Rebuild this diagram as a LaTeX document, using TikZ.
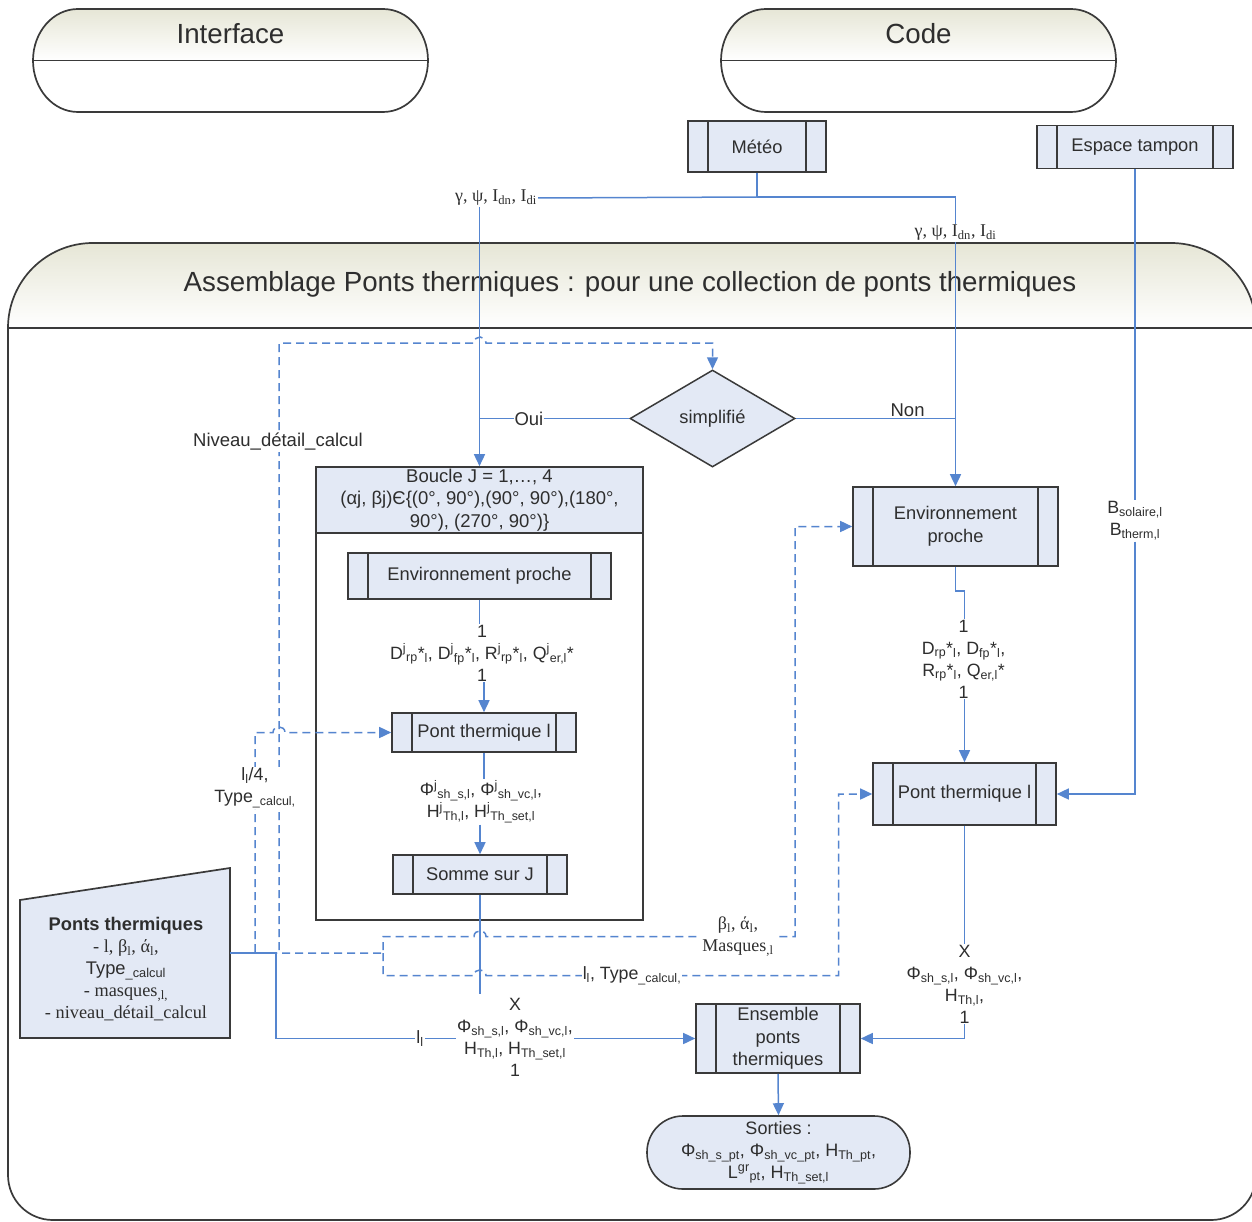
\documentclass[tikz,border=0pt]{standalone}
\usepackage{fontspec}
\setmainfont{Liberation Sans}
\newfontfamily\seriffam{Liberation Serif}
\usetikzlibrary{arrows.meta,shapes.geometric}
\definecolor{lnblue}{HTML}{5585CF}
\definecolor{boxfill}{HTML}{E3E9F5}
\definecolor{boxdraw}{HTML}{3A3A3A}
\definecolor{hdrtop}{HTML}{E6E6D6}
\definecolor{txt}{HTML}{2E2E2E}
\newcommand\mysb[1]{\textsubscript{#1}}
\newcommand\mysp[1]{\textsuperscript{#1}}
\begin{document}
\begin{tikzpicture}[x=1pt,y=-1pt,
  >={Triangle[length=12pt,width=11pt]},
  ln/.style={draw=lnblue,line width=1.5pt},
  dsh/.style={draw=lnblue,line width=1.5pt,dash pattern=on 8pt off 5pt},
  outl/.style={draw=boxdraw,line width=1.7pt},
  lab/.style={font=\fontsize{17.8}{22}\selectfont,align=center,inner sep=1pt,text=txt},
  labw/.style={lab,fill=white},
  labbig/.style={labw,font=\fontsize{18.5}{22}\selectfont},
  slab/.style={font=\seriffam\fontsize{18}{22}\selectfont,align=center,inner sep=1pt,text=txt,fill=white},
  procbox/.style={draw=boxdraw,fill=boxfill,line width=1.6pt,align=center,inner sep=2pt,
    font=\fontsize{18.3}{22.5}\selectfont,text=txt,
    path picture={\draw[boxdraw,line width=1.6pt]
      ([xshift=20pt]path picture bounding box.north west) -- ([xshift=20pt]path picture bounding box.south west)
      ([xshift=-20pt]path picture bounding box.north east) -- ([xshift=-20pt]path picture bounding box.south east);}},
  hdrtext/.style={font=\fontsize{27.7}{32}\selectfont,text=txt}
]
\useasboundingbox (0,0) rectangle (1252,1222);
\clip (0,0) rectangle (1252,1222);

% ---------- terminators Interface / Code ----------
\foreach \xa/\xb in {33/428, 721/1116}{
  \pgfmathsetmacro\xaa{\xa+45}\pgfmathsetmacro\xbb{\xb-45}
  \pgfmathsetmacro\xac{\xa+20}\pgfmathsetmacro\xbc{\xb-20}
  \fill[white] (\xaa,9) -- (\xbb,9) .. controls (\xbc,9) and (\xb,32) .. (\xb,60.5)
     .. controls (\xb,89) and (\xbc,112) .. (\xbb,112) -- (\xaa,112)
     .. controls (\xac,112) and (\xa,89) .. (\xa,60.5) .. controls (\xa,32) and (\xac,9) .. (\xaa,9) -- cycle;
  \shade[top color=hdrtop,bottom color=white] (\xa,60.5) .. controls (\xa,32) and (\xac,9) .. (\xaa,9) -- (\xbb,9)
     .. controls (\xbc,9) and (\xb,32) .. (\xb,60.5) -- cycle;
  \draw[outl] (\xaa,9) -- (\xbb,9) .. controls (\xbc,9) and (\xb,32) .. (\xb,60.5)
     .. controls (\xb,89) and (\xbc,112) .. (\xbb,112) -- (\xaa,112)
     .. controls (\xac,112) and (\xa,89) .. (\xa,60.5) .. controls (\xa,32) and (\xac,9) .. (\xaa,9) -- cycle;
  \draw[outl] (\xa,60.5) -- (\xb,60.5);
}
\node[hdrtext] (tInt) at (230.5,34) {Interface};
\node[hdrtext] (tCode) at (918.5,34) {Code};

% ---------- main container ----------
\fill[white] (8,328) .. controls (8,281) and (46,243) .. (93,243) -- (1171,243)
   .. controls (1218,243) and (1256,281) .. (1256,328) -- (1256,1175)
   .. controls (1256,1200) and (1236,1220) .. (1211,1220) -- (53,1220)
   .. controls (28,1220) and (8,1200) .. (8,1175) -- cycle;
\shade[top color=hdrtop,bottom color=white] (8,328) .. controls (8,281) and (46,243) .. (93,243) -- (1171,243)
   .. controls (1218,243) and (1256,281) .. (1256,328) -- cycle;
\draw[outl] (8,328) .. controls (8,281) and (46,243) .. (93,243) -- (1171,243)
   .. controls (1218,243) and (1256,281) .. (1256,328) -- (1256,1175)
   .. controls (1256,1200) and (1236,1220) .. (1211,1220) -- (53,1220)
   .. controls (28,1220) and (8,1200) .. (8,1175) -- cycle;
\draw[outl] (8,328) -- (1256,328);
\node[hdrtext] (tTitle) at (630,284.5) {Assemblage Ponts thermiques : pour une collection de ponts thermiques};

% ---------- boxes ----------
\node[procbox,minimum width=138pt,minimum height=51pt] (meteo) at (757,146.5) {Météo};
\node[procbox,minimum width=196pt,minimum height=43pt] (espace) at (1135,147) {Espace tampon};
\node[diamond,draw=boxdraw,fill=boxfill,line width=1.5pt,minimum width=165pt,minimum height=97pt,inner sep=0pt,
      font=\fontsize{18.3}{22}\selectfont,text=txt] (diam) at (712.5,418.5) {simplifié};

\node[draw=boxdraw,fill=white,line width=1.6pt,minimum width=327pt,minimum height=453pt,inner sep=0pt] (boucle) at (479.5,693.5) {};
\node[draw=boxdraw,fill=boxfill,line width=1.6pt,minimum width=327pt,minimum height=66pt,inner sep=0pt,
      align=center,font=\fontsize{18.5}{22.5}\selectfont,text=txt] (bhdr) at (479.5,500)
      {Boucle J = 1,…, 4\\(αj, βj)Є\{(0°, 90°),(90°, 90°),(180°,\\90°), (270°, 90°)\}};

\node[procbox,minimum width=263pt,minimum height=46pt] (envin) at (479.5,576) {Environnement proche};
\node[procbox,minimum width=184pt,minimum height=39pt] (pontin) at (484,732.5) {Pont thermique l};
\node[procbox,minimum width=174pt,minimum height=39pt] (somme) at (480,874.5) {Somme sur J};

\node[procbox,minimum width=205pt,minimum height=79pt] (envR) at (955.5,526.5) {Environnement\\proche};
\node[procbox,minimum width=183pt,minimum height=62pt] (pontR) at (964.5,794) {Pont thermique l};
\node[procbox,minimum width=164pt,minimum height=69pt] (ens) at (778,1038.5) {Ensemble\\ponts\\thermiques};
\node[draw=boxdraw,fill=boxfill,line width=1.6pt,rounded corners=36pt,minimum width=263pt,minimum height=73pt,
      align=center,font=\fontsize{18}{22}\selectfont,text=txt,inner sep=0pt] (sorties) at (778.5,1152.5)
      {Sorties :\\Φ\mysb{sh\_s\_pt}, Φ\mysb{sh\_vc\_pt}, H\mysb{Th\_pt},\\L\mysp{gr}\mysb{pt}, H\mysb{Th\_set,l}};

% manual input shape
\path[draw=boxdraw,fill=boxfill,line width=1.7pt] (20,900) -- (230,868) -- (230,1038) -- (20,1038) -- cycle;
\node[align=center,text=txt,font=\fontsize{18.3}{22}\selectfont,inner sep=0pt] (pt) at (126,969)
  {{\bfseries Ponts thermiques}\\{\seriffam - l, β\mysb{l}, ά\mysb{l},}\\Type\mysb{\_calcul}\\{\seriffam - masques\mysb{,l,}}\\{\seriffam - niveau\_détail\_calcul}};
\coordinate (ptout) at (230,953);
\coordinate (dsplit) at (383,953);
\coordinate (sEnd) at (480,994);

% ---------- dashed connectors ----------
\draw[dsh,->] (ptout) -- (279,953) -- (279,343) -- (474,343) .. controls (474,335) and (486,335) .. (486,343) -- (712.5,343) -- (diam.north);
\draw[dsh,->] (ptout) -- (255,953) -- (255,732.5) -- (273,732.5) .. controls (273,725) and (285,725) .. (285,732.5) -- (pontin.west);
\draw[dsh,->] (ptout) -- (dsplit) -- (383,936.5) -- (474,936.5) .. controls (474,929) and (486,929) .. (486,936.5) -- (795,936.5) -- (795,526.5) -- (envR.west);
\draw[dsh,->] (dsplit) -- (383,975.5) -- (474,975.5) .. controls (474,968) and (486,968) .. (486,975.5) -- (838.5,975.5) -- (838.5,794) -- (pontR.west);

% ---------- solid connectors ----------
\node[slab] (gL) at (496,198) {γ, ψ, I\mysb{dn}, I\mysb{di}};
\node[slab] (gR) at (955.5,233) {γ, ψ, I\mysb{dn}, I\mysb{di}};
\draw[ln] (meteo.south) -- (757,197) coordinate (mj);
\draw[ln] (mj) -- (gL.east);
\draw[ln,->] (gL.south -| bhdr.north) -- (bhdr.north);
\draw[ln] (mj) -| (gR.north);
\draw[ln,->] (gR.south) -- (envR.north);

\draw[ln] (diam.west) -- (bhdr.north |- diam.west) node[labbig,pos=0.67] {Oui};
\draw[ln] (diam.east) -- (envR.north |- diam.east) node[labbig,pos=0.7,yshift=8pt] {Non};

\node[lab,fill=white] (lC) at (482,653) {1\\D\mysp{j}\mysb{rp}*\mysb{l}, D\mysp{j}\mysb{fp}*\mysb{l}, R\mysp{j}\mysb{rp}*\mysb{l}, Q\mysp{j}\mysb{er,l}*\\1};
\draw[ln] (envin.south) -- (envin.south |- lC.north);
\draw[ln,->] (pontin.north |- lC.south) -- (pontin.north);

\node[lab,fill=white] (lP) at (481,802) {Φ\mysp{j}\mysb{sh\_s,l}, Φ\mysp{j}\mysb{sh\_vc,l},\\H\mysp{j}\mysb{Th,l}, H\mysp{j}\mysb{Th\_set,l}};
\draw[ln] (pontin.south) -- (pontin.south |- lP.north);
\draw[ln,->] (somme.north |- lP.south) -- (somme.north);

\node[lab,fill=white] (lD) at (963.5,659) {1\\D\mysb{rp}*\mysb{l}, D\mysb{fp}*\mysb{l},\\R\mysb{rp}*\mysb{l}, Q\mysb{er,l}*\\1};
\draw[ln] (envR.south) -- (955.5,591) -- (964.5,591) -- (lD.north -| pontR.north);
\draw[ln,->] (lD.south -| pontR.north) -- (pontR.north);

\node[lab,fill=white] (lE) at (1135,521) {B\mysb{solaire,l}\\B\mysb{therm,l}};
\draw[ln] (espace.south) -- (lE.north);
\draw[ln,->] (lE.south) -- (1135,794) -- (pontR.east);

\node[lab,fill=white] (lF) at (964.5,984) {X\\Φ\mysb{sh\_s,l}, Φ\mysb{sh\_vc,l},\\H\mysb{Th,l},\\1};
\draw[ln] (pontR.south) -- (lF.north);
\draw[ln,->] (lF.south) -- (964.5,1038.5) -- (ens.east);

\draw[ln,->] (ens.south) -- (sorties.north);

\draw[ln] (somme.south) -- (sEnd);
\draw[ln,->] (ptout) -- (276,953) -- (276,1038.5) -- (ens.west);

% ---------- labels on lines ----------
\node[labbig] (lNiv) at (278,442) {Niveau\_détail\_calcul};
\node[labw] (lI4) at (255,788) {l\mysb{l}/4,\\Type\mysb{\_calcul,}};
\node[slab] (lMasq) at (738,937) {β\mysb{l}, ά\mysb{l},\\Masques\mysb{,l}};
\node[labw] (lType) at (632,976) {l\mysb{l}, Type\mysb{\_calcul,}};
\node[labw] (lIl) at (420,1038.5) {l\mysb{l}};
\node[lab,fill=white] (lG) at (515,1037) {X\\Φ\mysb{sh\_s,l}, Φ\mysb{sh\_vc,l},\\H\mysb{Th,l}, H\mysb{Th\_set,l}\\1};
\end{tikzpicture}
\end{document}
